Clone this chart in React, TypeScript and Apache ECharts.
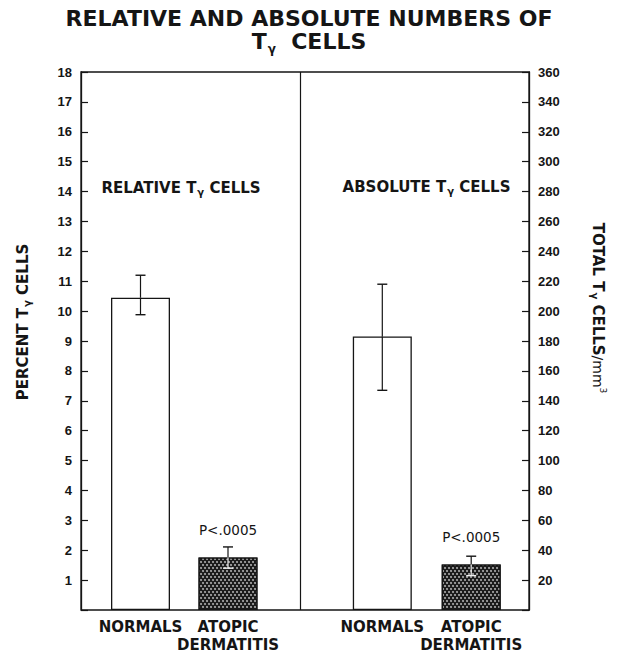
import { useEffect, useRef } from 'react';
import * as echarts from 'echarts';

const categories = ['NORMALS', 'ATOPIC\nDERMATITIS'];
const relativeMean = [10.45, 1.76];
const relativeLow = [9.88, 1.4];
const relativeHigh = [11.2, 2.11];
const absoluteMean = [183, 30.5];
const absoluteLow = [147, 23];
const absoluteHigh = [218, 36];
const pValueLabel = 'P<.0005';
const percentTicks = { min: 0, max: 18, interval: 1 };
const totalTicks = { min: 0, max: 360, interval: 20 };
const dividerAt = [0.495];

const BOLD = '"DejaVu Sans", sans-serif';
const TICK_FONT = '"Liberation Sans", Arial, sans-serif';
const INK = '#151515';

export default function App() {
  const ref = useRef<HTMLDivElement>(null);

  useEffect(() => {
    const chart = echarts.init(ref.current!, null, { renderer: 'svg' });
    const top = 72;
    const bottom = 45;

    const barStyle = (i: number) =>
      i === 0
        ? { color: '#ffffff', borderColor: INK, borderWidth: 1.3 }
        : {
            color: '#1c1c1c',
            borderColor: INK,
            borderWidth: 1.3,
            decal: {
              symbol: 'circle',
              symbolSize: 0.8,
              color: 'rgba(255,255,255,0.8)',
              dashArrayX: [[2, 2], [0, 2, 2, 0]],
              dashArrayY: [1.5, 1],
              rotation: 0,
            },
          };

    const barData = (means: number[]) =>
      means.map((v, i) => ({
        value: v,
        itemStyle: barStyle(i),
        label:
          i === 1
            ? {
                show: true,
                position: 'top',
                distance: 20,
                formatter: pValueLabel,
                fontFamily: BOLD,
                fontSize: 13.5,
                fontWeight: 'normal',
                color: INK,
              }
            : { show: false },
      }));

    const errData = (low: number[], high: number[], mean: number[]) =>
      low.map((l, i) => [i, l, high[i], mean[i]]);

    const renderErr = (_params: any, api: any) => {
      const i = api.value(0);
      const lo = api.coord([i, api.value(1)]);
      const hi = api.coord([i, api.value(2)]);
      const mid = api.coord([i, api.value(3)]);
      const x = hi[0];
      const half = 5;
      const inner = i === 1 ? '#f2f2f2' : INK;
      return {
        type: 'group',
        children: [
          { type: 'line', shape: { x1: x, y1: hi[1], x2: x, y2: mid[1] }, style: { stroke: INK, lineWidth: 1.2 } },
          { type: 'line', shape: { x1: x - half, y1: hi[1], x2: x + half, y2: hi[1] }, style: { stroke: INK, lineWidth: 1.4 } },
          { type: 'line', shape: { x1: x, y1: mid[1], x2: x, y2: lo[1] }, style: { stroke: inner, lineWidth: 1.2 } },
          { type: 'line', shape: { x1: x - half, y1: lo[1], x2: x + half, y2: lo[1] }, style: { stroke: inner, lineWidth: 1.4 } },
        ],
      };
    };

    const tickLabel = {
      color: INK,
      fontFamily: TICK_FONT,
      fontWeight: 'bold',
      fontSize: 13,
      margin: 9,
      formatter: (v: number) => (v === 0 ? '' : String(v)),
    };
    const axisLine = { show: true, lineStyle: { color: INK, width: 1.3 } };
    const axisTick = { show: true, inside: true, length: 7, lineStyle: { color: INK, width: 1.2 } };

    const catAxis = (gridIndex: number) => ({
      gridIndex,
      type: 'category',
      data: categories,
      axisLine: { show: false },
      axisTick: { show: false },
      axisLabel: {
        color: INK,
        fontFamily: BOLD,
        fontWeight: 'bold',
        fontSize: 15,
        lineHeight: 18,
        margin: 8,
        interval: 0,
      },
    });

    const subRich = (size: number, lh: number, subSize: number, subLh: number) => ({
      b: { fontSize: size, fontWeight: 'bold', fontFamily: BOLD, lineHeight: lh, fill: INK },
      s: { fontSize: subSize, fontWeight: 'bold', fontFamily: BOLD, lineHeight: subLh, verticalAlign: 'bottom', fill: INK, padding: [0, 0, 0, 1] },
      n: { fontSize: size - 1, fontWeight: 'normal', fontFamily: BOLD, lineHeight: lh, fill: INK },
      p: { fontSize: 9, fontWeight: 'normal', fontFamily: BOLD, lineHeight: 8, verticalAlign: 'top', fill: INK },
    });

    const label = (x: number, y: number, text: string, rich: any, rotation = 0) => ({
      type: 'text',
      x,
      y,
      rotation,
      style: { text, rich, align: 'center', verticalAlign: 'middle', fill: INK },
    });

    chart.setOption({
      animation: false,
      backgroundColor: '#ffffff',
      grid: [
        { left: 81, right: 90, top, bottom, show: true, borderColor: INK, borderWidth: 1.3, backgroundColor: 'transparent' },
        { left: 96.75, width: 175, top, bottom },
        { left: 337.85, width: 177.8, top, bottom },
      ],
      xAxis: [
        { gridIndex: 0, type: 'value', min: 0, max: 1, show: false },
        catAxis(1),
        catAxis(2),
      ],
      yAxis: [
        { gridIndex: 0, type: 'value', ...percentTicks, position: 'left', axisLine, axisTick, axisLabel: tickLabel, splitLine: { show: false } },
        { gridIndex: 0, type: 'value', ...totalTicks, position: 'right', axisLine, axisTick, axisLabel: tickLabel, splitLine: { show: false } },
        { gridIndex: 1, type: 'value', ...percentTicks, show: false, splitLine: { show: false } },
        { gridIndex: 2, type: 'value', ...totalTicks, show: false, splitLine: { show: false } },
      ],
      series: [
        {
          type: 'line',
          xAxisIndex: 0,
          yAxisIndex: 0,
          data: [],
          markLine: {
            silent: true,
            symbol: 'none',
            label: { show: false },
            lineStyle: { color: INK, type: 'solid', width: 1.2 },
            data: dividerAt.map((v) => ({ xAxis: v })),
          },
        },
        { type: 'bar', xAxisIndex: 1, yAxisIndex: 2, barWidth: 59, data: barData(relativeMean), z: 2 },
        { type: 'bar', xAxisIndex: 2, yAxisIndex: 3, barWidth: 59, data: barData(absoluteMean), z: 2 },
        { type: 'custom', xAxisIndex: 1, yAxisIndex: 2, data: errData(relativeLow, relativeHigh, relativeMean), renderItem: renderErr, z: 5 },
        { type: 'custom', xAxisIndex: 2, yAxisIndex: 3, data: errData(absoluteLow, absoluteHigh, absoluteMean), renderItem: renderErr, z: 5 },
      ],
      graphic: [
        {
          type: 'text',
          x: 309,
          y: 18,
          style: { text: 'RELATIVE AND ABSOLUTE NUMBERS OF', font: `bold 22px ${BOLD}`, fill: INK, align: 'center', verticalAlign: 'middle' },
        },
        label(309, 41.5, '{b|T}{s|γ}{b|  CELLS}', subRich(22, 26, 12, 14)),
        label(181, 188, '{b|RELATIVE T}{s|γ}{b| CELLS}', subRich(15, 18, 10, 6)),
        label(426.5, 187, '{b|ABSOLUTE T}{s|γ}{b| CELLS}', subRich(15, 18, 10, 6)),
        label(23, 322, '{b|PERCENT T}{s|γ}{b| CELLS}', subRich(15, 18, 10, 6), Math.PI / 2),
        label(598, 308, '{b|TOTAL T}{s|γ}{b| CELLS}{n|/mm}{p|3}', subRich(15, 18, 10, 6), -Math.PI / 2),
      ],
    });

    return () => chart.dispose();
  }, []);

  return (
    <div
      ref={ref}
      style={{ position: 'fixed', left: 0, top: 0, width: 619, height: 655, background: '#fff' }}
    />
  );
}
